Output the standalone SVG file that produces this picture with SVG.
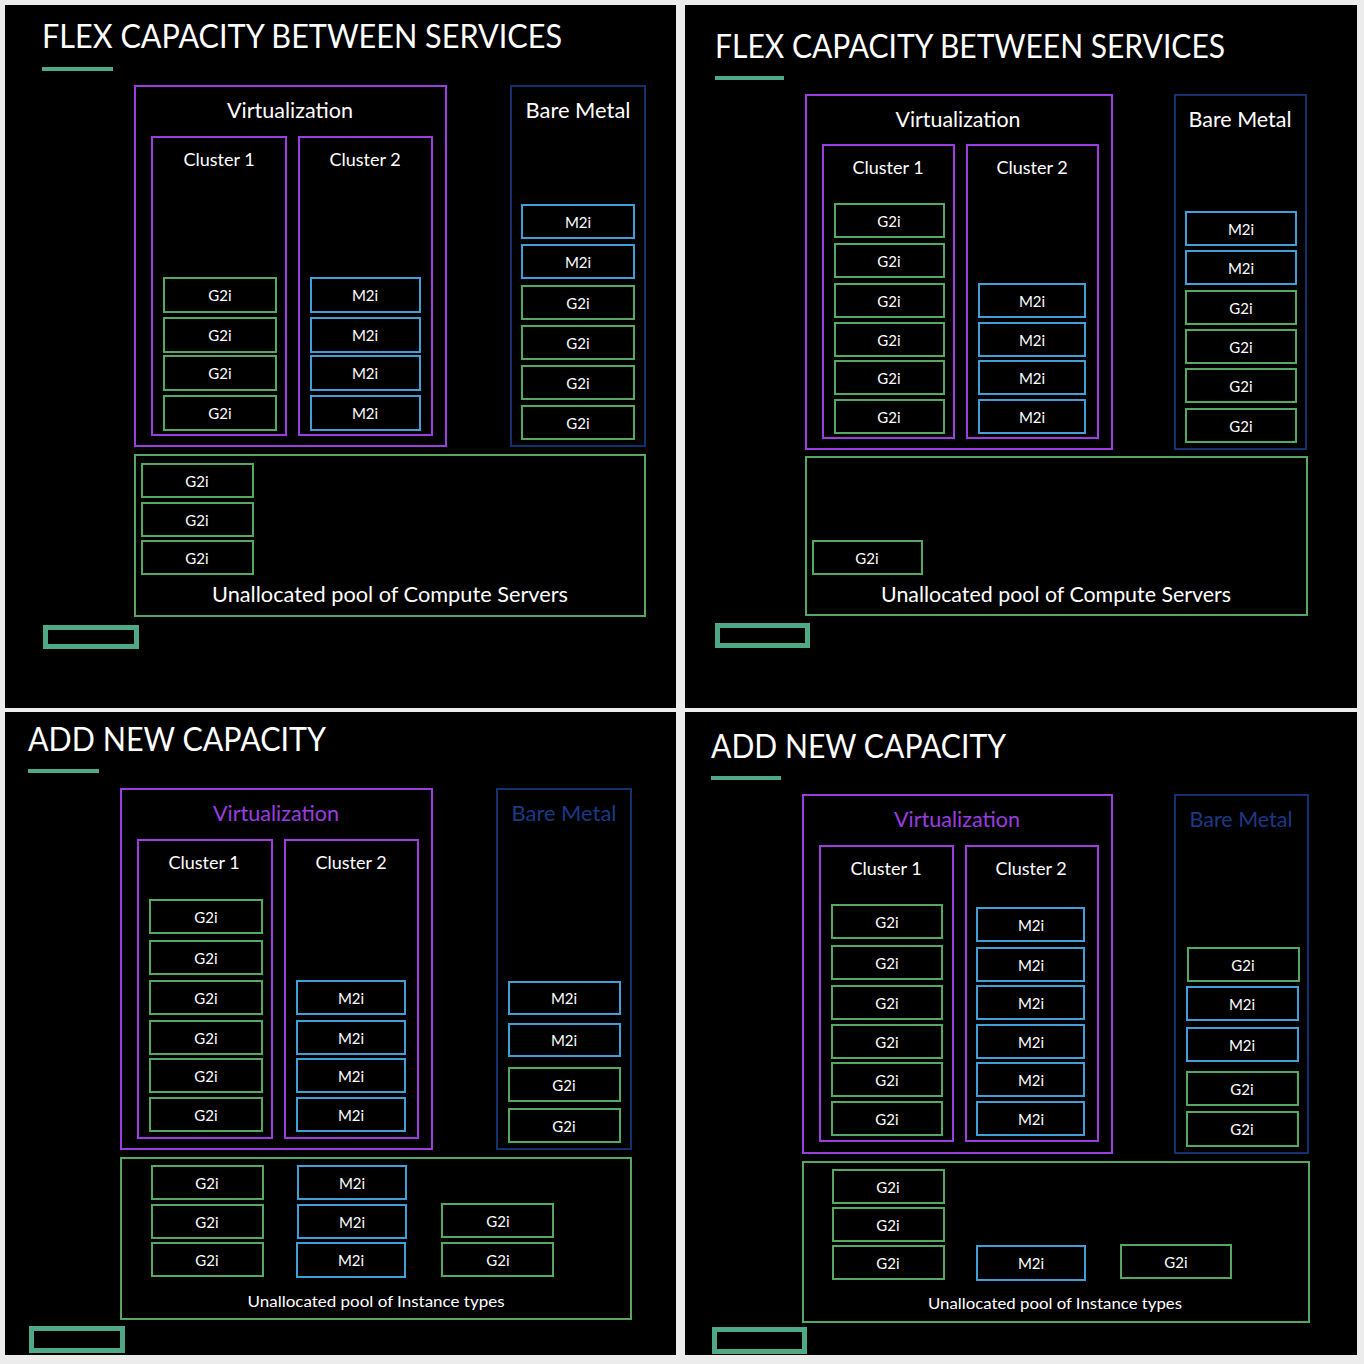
<svg xmlns="http://www.w3.org/2000/svg" width="1364" height="1364" viewBox="0 0 1364 1364">
<style>
.panel{fill:#000}
.g{fill:#000;stroke:#55a862;stroke-width:2}
.m{fill:#000;stroke:#3f9fd6;stroke-width:2}
.v{fill:none;stroke:#9a3ee0;stroke-width:2}
.bm{fill:none;stroke:#13306f;stroke-width:2}
.pool{fill:none;stroke:#55a862;stroke-width:2}
.bar{fill:#4fa886}
.logo{fill:none;stroke:#4fa886;stroke-width:5}
text{font-family:Lato,"Open Sans","Liberation Sans",sans-serif;fill:#fff;text-anchor:middle;dominant-baseline:central}
.title{font-size:32px;text-anchor:start}
.h{font-size:21px}
.cl{font-size:18px}
.it{font-size:15px}
.pl{font-size:21px}
.pl2{font-size:16px}
.pv{fill:#9a3ee0}
.pb{fill:#1a3a86}
</style>
<rect x="0" y="0" width="1364" height="1364" fill="#ececec"/>
<rect class="panel" x="5" y="5" width="671" height="703"/>
<rect class="panel" x="685" y="5" width="672" height="703"/>
<rect class="panel" x="5" y="712" width="671" height="643"/>
<rect class="panel" x="685" y="712" width="672" height="643"/>
<g id="connectors"/>

<!-- Panel 1 -->
<g id="p1-header">
<text class="title" x="42" y="35" textLength="520" lengthAdjust="spacingAndGlyphs">FLEX CAPACITY BETWEEN SERVICES</text>
<rect class="bar" x="42" y="67" width="71" height="4"/>
</g>
<g id="p1-virtualization"><rect class="v" x="135" y="86" width="311" height="360"/><text class="h" x="290" y="109" textLength="126" lengthAdjust="spacingAndGlyphs">Virtualization</text></g>
<g id="p1-cluster1"><rect class="v" x="152" y="137" width="134" height="298"/><text class="cl" x="219" y="159">Cluster 1</text></g>
<g id="p1-cluster2"><rect class="v" x="299" y="137" width="133" height="298"/><text class="cl" x="365" y="159">Cluster 2</text></g>
<g id="p1-c1-g1"><rect class="g" x="164" y="278" width="112" height="34"/><text class="it" x="220" y="295">G2i</text></g>
<g id="p1-c1-g2"><rect class="g" x="164" y="318" width="112" height="34"/><text class="it" x="220" y="335">G2i</text></g>
<g id="p1-c1-g3"><rect class="g" x="164" y="356" width="112" height="34"/><text class="it" x="220" y="373">G2i</text></g>
<g id="p1-c1-g4"><rect class="g" x="164" y="396" width="112" height="34"/><text class="it" x="220" y="413">G2i</text></g>
<g id="p1-c2-m1"><rect class="m" x="311" y="278" width="109" height="34"/><text class="it" x="365" y="295">M2i</text></g>
<g id="p1-c2-m2"><rect class="m" x="311" y="318" width="109" height="34"/><text class="it" x="365" y="335">M2i</text></g>
<g id="p1-c2-m3"><rect class="m" x="311" y="356" width="109" height="34"/><text class="it" x="365" y="373">M2i</text></g>
<g id="p1-c2-m4"><rect class="m" x="311" y="396" width="109" height="34"/><text class="it" x="365" y="413">M2i</text></g>
<g id="p1-baremetal"><rect class="bm" x="511" y="86" width="134" height="360"/><text class="h" x="578" y="109" textLength="105" lengthAdjust="spacingAndGlyphs">Bare Metal</text></g>
<g id="p1-bm-m1"><rect class="m" x="522" y="205" width="112" height="33"/><text class="it" x="578" y="221.5">M2i</text></g>
<g id="p1-bm-m2"><rect class="m" x="522" y="245" width="112" height="33"/><text class="it" x="578" y="261.5">M2i</text></g>
<g id="p1-bm-g1"><rect class="g" x="522" y="286" width="112" height="33"/><text class="it" x="578" y="302.5">G2i</text></g>
<g id="p1-bm-g2"><rect class="g" x="522" y="326" width="112" height="33"/><text class="it" x="578" y="342.5">G2i</text></g>
<g id="p1-bm-g3"><rect class="g" x="522" y="366" width="112" height="33"/><text class="it" x="578" y="382.5">G2i</text></g>
<g id="p1-bm-g4"><rect class="g" x="522" y="406" width="112" height="33"/><text class="it" x="578" y="422.5">G2i</text></g>
<g id="p1-pool"><rect class="pool" x="135" y="455" width="510" height="161"/><text class="pl" x="390" y="593" textLength="356" lengthAdjust="spacingAndGlyphs">Unallocated pool of Compute Servers</text></g>
<g id="p1-pool-g1"><rect class="g" x="142" y="464" width="111" height="33"/><text class="it" x="197" y="480.5">G2i</text></g>
<g id="p1-pool-g2"><rect class="g" x="142" y="503" width="111" height="33"/><text class="it" x="197" y="519.5">G2i</text></g>
<g id="p1-pool-g3"><rect class="g" x="142" y="541" width="111" height="33"/><text class="it" x="197" y="557.5">G2i</text></g>
<g id="p1-logo"><rect class="logo" x="45.5" y="627.5" width="91" height="19"/></g>

<!-- Panel 2 -->
<g id="p2-header">
<text class="title" x="715" y="45" textLength="510" lengthAdjust="spacingAndGlyphs">FLEX CAPACITY BETWEEN SERVICES</text>
<rect class="bar" x="715" y="76" width="69" height="4"/>
</g>
<g id="p2-virtualization"><rect class="v" x="806" y="95" width="306" height="354"/><text class="h" x="958" y="118" textLength="125" lengthAdjust="spacingAndGlyphs">Virtualization</text></g>
<g id="p2-cluster1"><rect class="v" x="823" y="145" width="131" height="293"/><text class="cl" x="888" y="167">Cluster 1</text></g>
<g id="p2-cluster2"><rect class="v" x="967" y="145" width="131" height="293"/><text class="cl" x="1032" y="167">Cluster 2</text></g>
<g id="p2-c1-g1"><rect class="g" x="835" y="204" width="109" height="33"/><text class="it" x="889" y="220.5">G2i</text></g>
<g id="p2-c1-g2"><rect class="g" x="835" y="244" width="109" height="33"/><text class="it" x="889" y="260.5">G2i</text></g>
<g id="p2-c1-g3"><rect class="g" x="835" y="284" width="109" height="33"/><text class="it" x="889" y="300.5">G2i</text></g>
<g id="p2-c1-g4"><rect class="g" x="835" y="323" width="109" height="33"/><text class="it" x="889" y="339.5">G2i</text></g>
<g id="p2-c1-g5"><rect class="g" x="835" y="361" width="109" height="33"/><text class="it" x="889" y="377.5">G2i</text></g>
<g id="p2-c1-g6"><rect class="g" x="835" y="400" width="109" height="33"/><text class="it" x="889" y="416.5">G2i</text></g>
<g id="p2-c2-m1"><rect class="m" x="979" y="284" width="106" height="33"/><text class="it" x="1032" y="300.5">M2i</text></g>
<g id="p2-c2-m2"><rect class="m" x="979" y="323" width="106" height="33"/><text class="it" x="1032" y="339.5">M2i</text></g>
<g id="p2-c2-m3"><rect class="m" x="979" y="361" width="106" height="33"/><text class="it" x="1032" y="377.5">M2i</text></g>
<g id="p2-c2-m4"><rect class="m" x="979" y="400" width="106" height="33"/><text class="it" x="1032" y="416.5">M2i</text></g>
<g id="p2-baremetal"><rect class="bm" x="1175" y="95" width="131" height="354"/><text class="h" x="1240" y="118" textLength="103" lengthAdjust="spacingAndGlyphs">Bare Metal</text></g>
<g id="p2-bm-m1"><rect class="m" x="1186" y="212" width="110" height="33"/><text class="it" x="1241" y="228.5">M2i</text></g>
<g id="p2-bm-m2"><rect class="m" x="1186" y="251" width="110" height="33"/><text class="it" x="1241" y="267.5">M2i</text></g>
<g id="p2-bm-g1"><rect class="g" x="1186" y="291" width="110" height="33"/><text class="it" x="1241" y="307.5">G2i</text></g>
<g id="p2-bm-g2"><rect class="g" x="1186" y="330" width="110" height="33"/><text class="it" x="1241" y="346.5">G2i</text></g>
<g id="p2-bm-g3"><rect class="g" x="1186" y="369" width="110" height="33"/><text class="it" x="1241" y="385.5">G2i</text></g>
<g id="p2-bm-g4"><rect class="g" x="1186" y="409" width="110" height="33"/><text class="it" x="1241" y="425.5">G2i</text></g>
<g id="p2-pool"><rect class="pool" x="806" y="457" width="501" height="158"/><text class="pl" x="1056" y="593" textLength="350" lengthAdjust="spacingAndGlyphs">Unallocated pool of Compute Servers</text></g>
<g id="p2-pool-g1"><rect class="g" x="813" y="541" width="109" height="33"/><text class="it" x="867" y="557.5">G2i</text></g>
<g id="p2-logo"><rect class="logo" x="717.5" y="625.5" width="90" height="20"/></g>

<!-- Panel 3 -->
<g id="p3-header">
<text class="title" x="28" y="738" textLength="298" lengthAdjust="spacingAndGlyphs">ADD NEW CAPACITY</text>
<rect class="bar" x="28" y="769" width="71" height="4"/>
</g>
<g id="p3-virtualization"><rect class="v" x="121" y="789" width="311" height="360"/><text class="h pv" x="276" y="812" textLength="126" lengthAdjust="spacingAndGlyphs">Virtualization</text></g>
<g id="p3-cluster1"><rect class="v" x="138" y="840" width="134" height="298"/><text class="cl" x="204" y="862">Cluster 1</text></g>
<g id="p3-cluster2"><rect class="v" x="285" y="840" width="133" height="298"/><text class="cl" x="351" y="862">Cluster 2</text></g>
<g id="p3-c1-g1"><rect class="g" x="150" y="900" width="112" height="33"/><text class="it" x="206" y="916.5">G2i</text></g>
<g id="p3-c1-g2"><rect class="g" x="150" y="941" width="112" height="33"/><text class="it" x="206" y="957.5">G2i</text></g>
<g id="p3-c1-g3"><rect class="g" x="150" y="981" width="112" height="33"/><text class="it" x="206" y="997.5">G2i</text></g>
<g id="p3-c1-g4"><rect class="g" x="150" y="1021" width="112" height="33"/><text class="it" x="206" y="1037.5">G2i</text></g>
<g id="p3-c1-g5"><rect class="g" x="150" y="1059" width="112" height="33"/><text class="it" x="206" y="1075.5">G2i</text></g>
<g id="p3-c1-g6"><rect class="g" x="150" y="1098" width="112" height="33"/><text class="it" x="206" y="1114.5">G2i</text></g>
<g id="p3-c2-m1"><rect class="m" x="297" y="981" width="108" height="33"/><text class="it" x="351" y="997.5">M2i</text></g>
<g id="p3-c2-m2"><rect class="m" x="297" y="1021" width="108" height="33"/><text class="it" x="351" y="1037.5">M2i</text></g>
<g id="p3-c2-m3"><rect class="m" x="297" y="1059" width="108" height="33"/><text class="it" x="351" y="1075.5">M2i</text></g>
<g id="p3-c2-m4"><rect class="m" x="297" y="1098" width="108" height="33"/><text class="it" x="351" y="1114.5">M2i</text></g>
<g id="p3-baremetal"><rect class="bm" x="497" y="789" width="134" height="360"/><text class="h pb" x="564" y="812" textLength="105" lengthAdjust="spacingAndGlyphs">Bare Metal</text></g>
<g id="p3-bm-m1"><rect class="m" x="509" y="982" width="111" height="32"/><text class="it" x="564" y="998">M2i</text></g>
<g id="p3-bm-m2"><rect class="m" x="509" y="1024" width="111" height="32"/><text class="it" x="564" y="1040">M2i</text></g>
<g id="p3-bm-g1"><rect class="g" x="509" y="1068" width="111" height="33"/><text class="it" x="564" y="1084.5">G2i</text></g>
<g id="p3-bm-g2"><rect class="g" x="509" y="1109" width="111" height="33"/><text class="it" x="564" y="1125.5">G2i</text></g>
<g id="p3-pool"><rect class="pool" x="121" y="1158" width="510" height="161"/><text class="pl2" x="376" y="1300" textLength="257" lengthAdjust="spacingAndGlyphs">Unallocated pool of Instance types</text></g>
<g id="p3-pool-g1"><rect class="g" x="152" y="1166" width="111" height="33"/><text class="it" x="207" y="1182.5">G2i</text></g>
<g id="p3-pool-g2"><rect class="g" x="152" y="1205" width="111" height="33"/><text class="it" x="207" y="1221.5">G2i</text></g>
<g id="p3-pool-g3"><rect class="g" x="152" y="1243" width="111" height="33"/><text class="it" x="207" y="1259.5">G2i</text></g>
<g id="p3-pool-m1"><rect class="m" x="298" y="1166" width="108" height="33"/><text class="it" x="352" y="1182.5">M2i</text></g>
<g id="p3-pool-m2"><rect class="m" x="298" y="1205" width="108" height="33"/><text class="it" x="352" y="1221.5">M2i</text></g>
<g id="p3-pool-m3"><rect class="m" x="297" y="1243" width="108" height="34"/><text class="it" x="351" y="1260">M2i</text></g>
<g id="p3-pool-g4"><rect class="g" x="442" y="1204" width="111" height="33"/><text class="it" x="498" y="1220.5">G2i</text></g>
<g id="p3-pool-g5"><rect class="g" x="442" y="1243" width="111" height="33"/><text class="it" x="498" y="1259.5">G2i</text></g>
<g id="p3-logo"><rect class="logo" x="31.5" y="1328.5" width="91" height="22"/></g>

<!-- Panel 4 -->
<g id="p4-header">
<text class="title" x="711" y="745" textLength="295" lengthAdjust="spacingAndGlyphs">ADD NEW CAPACITY</text>
<rect class="bar" x="711" y="776" width="70" height="4"/>
</g>
<g id="p4-virtualization"><rect class="v" x="803" y="795" width="309" height="358"/><text class="h pv" x="957" y="818" textLength="126" lengthAdjust="spacingAndGlyphs">Virtualization</text></g>
<g id="p4-cluster1"><rect class="v" x="820" y="846" width="133" height="295"/><text class="cl" x="886" y="868">Cluster 1</text></g>
<g id="p4-cluster2"><rect class="v" x="966" y="846" width="132" height="295"/><text class="cl" x="1031" y="868">Cluster 2</text></g>
<g id="p4-c1-g1"><rect class="g" x="832" y="905" width="110" height="33"/><text class="it" x="887" y="921.5">G2i</text></g>
<g id="p4-c1-g2"><rect class="g" x="832" y="946" width="110" height="33"/><text class="it" x="887" y="962.5">G2i</text></g>
<g id="p4-c1-g3"><rect class="g" x="832" y="986" width="110" height="33"/><text class="it" x="887" y="1002.5">G2i</text></g>
<g id="p4-c1-g4"><rect class="g" x="832" y="1025" width="110" height="33"/><text class="it" x="887" y="1041.5">G2i</text></g>
<g id="p4-c1-g5"><rect class="g" x="832" y="1063" width="110" height="33"/><text class="it" x="887" y="1079.5">G2i</text></g>
<g id="p4-c1-g6"><rect class="g" x="832" y="1102" width="110" height="33"/><text class="it" x="887" y="1118.5">G2i</text></g>
<g id="p4-c2-m1"><rect class="m" x="977" y="908" width="107" height="33"/><text class="it" x="1031" y="924.5">M2i</text></g>
<g id="p4-c2-m2"><rect class="m" x="977" y="948" width="107" height="33"/><text class="it" x="1031" y="964.5">M2i</text></g>
<g id="p4-c2-m3"><rect class="m" x="977" y="986" width="107" height="33"/><text class="it" x="1031" y="1002.5">M2i</text></g>
<g id="p4-c2-m4"><rect class="m" x="977" y="1025" width="107" height="33"/><text class="it" x="1031" y="1041.5">M2i</text></g>
<g id="p4-c2-m5"><rect class="m" x="977" y="1063" width="107" height="33"/><text class="it" x="1031" y="1079.5">M2i</text></g>
<g id="p4-c2-m6"><rect class="m" x="977" y="1102" width="107" height="33"/><text class="it" x="1031" y="1118.5">M2i</text></g>
<g id="p4-baremetal"><rect class="bm" x="1175" y="795" width="133" height="358"/><text class="h pb" x="1241" y="818" textLength="103" lengthAdjust="spacingAndGlyphs">Bare Metal</text></g>
<g id="p4-bm-g1"><rect class="g" x="1188" y="948" width="111" height="33"/><text class="it" x="1243" y="964.5">G2i</text></g>
<g id="p4-bm-m1"><rect class="m" x="1187" y="987" width="111" height="33"/><text class="it" x="1242" y="1003.5">M2i</text></g>
<g id="p4-bm-m2"><rect class="m" x="1187" y="1028" width="111" height="33"/><text class="it" x="1242" y="1044.5">M2i</text></g>
<g id="p4-bm-g2"><rect class="g" x="1187" y="1072" width="111" height="33"/><text class="it" x="1242" y="1088.5">G2i</text></g>
<g id="p4-bm-g3"><rect class="g" x="1187" y="1112" width="111" height="34"/><text class="it" x="1242" y="1129">G2i</text></g>
<g id="p4-pool"><rect class="pool" x="803" y="1162" width="506" height="160"/><text class="pl2" x="1055" y="1302" textLength="254" lengthAdjust="spacingAndGlyphs">Unallocated pool of Instance types</text></g>
<g id="p4-pool-g1"><rect class="g" x="833" y="1170" width="111" height="33"/><text class="it" x="888" y="1186.5">G2i</text></g>
<g id="p4-pool-g2"><rect class="g" x="833" y="1208" width="111" height="33"/><text class="it" x="888" y="1224.5">G2i</text></g>
<g id="p4-pool-g3"><rect class="g" x="833" y="1246" width="111" height="33"/><text class="it" x="888" y="1262.5">G2i</text></g>
<g id="p4-pool-m1"><rect class="m" x="977" y="1246" width="108" height="34"/><text class="it" x="1031" y="1263">M2i</text></g>
<g id="p4-pool-g4"><rect class="g" x="1121" y="1245" width="110" height="33"/><text class="it" x="1176" y="1261.5">G2i</text></g>
<g id="p4-logo"><rect class="logo" x="714.5" y="1329.5" width="90" height="22"/></g>

<rect x="0" y="1355" width="1364" height="9" fill="#ececec"/>
</svg>
